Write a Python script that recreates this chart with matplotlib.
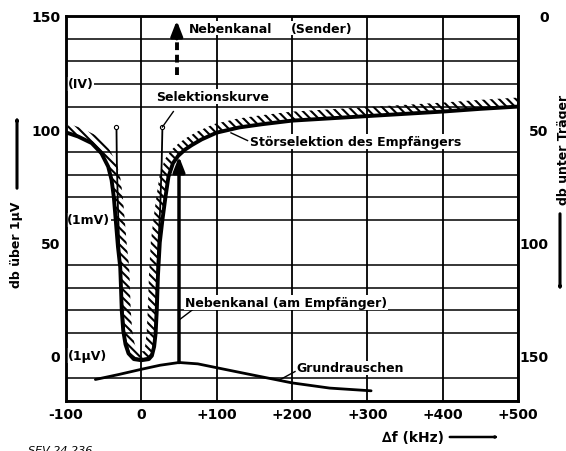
import numpy as np
import matplotlib
matplotlib.use("Agg")
import matplotlib.pyplot as plt
from matplotlib.patches import Polygon, FancyArrowPatch

# Störselektion des Empfängers (dick, schraffiert)
stoer_f = [-100, -84, -66, -53, -44, -39.5, -36.5, -34, -31, -28, -27, -26, -24, -21, -17, -10, 0,
           10, 14, 17, 19, 20.5, 22, 24.5, 28, 32, 36, 42, 49, 58, 67, 80, 100, 130, 160, 200, 250,
           300, 350, 400, 450, 500]
stoer_db = [98.6, 96.8, 93.9, 89.4, 83.5, 77.6, 70, 60, 48, 39, 30, 20, 11, 5, 1, -1.5, -2,
            -1.5, 0, 4, 10, 20, 35, 50, 60, 70, 79, 85, 88.3, 91, 93, 95.5, 98.5, 100.8, 102.2, 103.8, 104.8,
            105.8, 106.8, 107.8, 109, 110]

# Selektionskurve (dünn)
sel_f = [-33, -32.5, -31, -29, -26, -22, -16, -8, 0, 8, 14, 18, 20, 22, 25, 27, 28]
sel_db = [101, 85, 65, 45, 25, 8, 1, -1, -1.5, -1, 1, 8, 25, 45, 65, 85, 101]

# Grundrauschen
rausch_f = [-61, -30, 0, 25, 50, 75, 100, 140, 200, 250, 305]
rausch_db = [-10.5, -8.3, -6, -4.2, -3, -3.6, -5.3, -8, -12, -14.3, -15.5]

# Nebenkanal-Pfeile
nk_empf_f, nk_empf_db = 50, (-3, 88)
nk_send_f, nk_send_db = 47, (124, 141, 148)

x_ticks = [-100, 0, 100, 200, 300, 400, 500]
x_labels = ['-100', '0', '+100', '+200', '+300', '+400', '+500']
y_ticks = [0, 50, 100, 150]
y2_ticks = [0, 50, 100, 150]

plt.rcParams['font.family'] = 'DejaVu Sans'
plt.rcParams['hatch.linewidth'] = 1.5

fig = plt.figure(figsize=(5.66, 4.52), dpi=100)
ax = fig.add_axes([66/566, 1-402/452, (518-66)/566, (402-17)/452])
ax.set_xlim(-100, 500)
ax.set_ylim(-20, 150)

ax.set_xticks(x_ticks)
ax.set_xticklabels(x_labels, fontsize=10, fontweight='bold')
ax.set_yticks(y_ticks)
ax.set_yticklabels([str(v) for v in y_ticks], fontsize=10, fontweight='bold')
ax.set_yticks(np.arange(-20, 151, 10), minor=True)
ax.tick_params(axis='both', which='both', length=0, pad=4)
ax.grid(True, which='major', axis='x', color='black', lw=1.3)
ax.grid(True, which='minor', axis='y', color='black', lw=1.1)
for s in ax.spines.values():
    s.set_linewidth(1.8)

ax2 = ax.twinx()
ax2.set_ylim(170, 0)
ax2.set_yticks(y2_ticks)
ax2.set_yticklabels([str(v) for v in y2_ticks], fontsize=10, fontweight='bold', ha='right')
ax2.tick_params(axis='y', length=0, pad=22)
for s in ax2.spines.values():
    s.set_linewidth(1.8)

# Schraffur oberhalb der Störselektionskurve
pts = ax.transData.transform(np.column_stack([stoer_f, stoer_db]))
seg = np.diff(pts, axis=0)
seg /= np.linalg.norm(seg, axis=1)[:, None]
tang = np.zeros_like(pts)
tang[0], tang[-1] = seg[0], seg[-1]
tang[1:-1] = seg[:-1] + seg[1:]
tang /= np.linalg.norm(tang, axis=1)[:, None]
norm = np.column_stack([-tang[:, 1], tang[:, 0]])
off = ax.transData.inverted().transform(pts + norm * 9)
band = np.vstack([np.column_stack([stoer_f, stoer_db]), off[::-1]])
ax.add_patch(Polygon(band, closed=True, fill=False, edgecolor='black', lw=0,
                     hatch='\\\\\\\\', zorder=3))

ax.plot(stoer_f, stoer_db, color='black', lw=2.8, solid_capstyle='round', solid_joinstyle='round', zorder=4)
ax.plot(sel_f, sel_db, color='black', lw=1.3, zorder=4)
ax.plot([sel_f[0], sel_f[-1]], [sel_db[0], sel_db[-1]], 'o', ms=3, mfc='white', mec='black', mew=0.8, zorder=5)
ax.plot(rausch_f, rausch_db, color='black', lw=2, solid_capstyle='round', zorder=4)

# Nebenkanal am Empfänger
ax.annotate('', xy=(nk_empf_f, nk_empf_db[1]), xytext=(nk_empf_f, nk_empf_db[0]),
            arrowprops=dict(arrowstyle='-|>,head_length=0.9,head_width=0.35', lw=2.5, color='black',
                            shrinkA=0, shrinkB=0), zorder=5)
# Nebenkanal (Sender)
ax.plot([nk_send_f, nk_send_f], [nk_send_db[0], nk_send_db[1]], color='black', lw=2.8,
        dashes=(2, 1.2), zorder=5)
ax.annotate('', xy=(nk_send_f, nk_send_db[2]), xytext=(nk_send_f, nk_send_db[1] - 1),
            arrowprops=dict(arrowstyle='-|>,head_length=0.9,head_width=0.35', lw=2.5, color='black',
                            shrinkA=0, shrinkB=0), zorder=5)

tkw = dict(fontsize=9, fontweight='bold', va='center', zorder=6)
wb = dict(facecolor='white', edgecolor='none', pad=0.5)
ax.text(62.5, 144.7, 'Nebenkanal', ha='left', bbox=wb, **tkw)
ax.text(199, 144.7, '(Sender)', ha='left', bbox=wb, **tkw)
ax.text(20, 114.4, 'Selektionskurve', ha='left', bbox=wb, **tkw)
ax.text(144, 94.6, 'Störselektion des Empfängers', ha='left', bbox=wb, **tkw)
ax.text(58, 23.5, 'Nebenkanal (am Empfänger)', ha='left', bbox=wb, **tkw)
ax.text(206, -5.4, 'Grundrauschen', ha='left', bbox=wb, **tkw)
ax.text(-81, 120, '(IV)', ha='center', bbox=wb, **tkw)
ax.text(-70, 60, '(1mV)', ha='center', bbox=wb, **tkw)
ax.text(-71, 0, '(1µV)', ha='center', bbox=wb, **tkw)

# Hinweislinien
lkw = dict(color='black', lw=1, zorder=5)
ax.plot([28, 42.5], [101, 107.8], **lkw)
ax.plot([119, 141], [98.4, 95], **lkw)
ax.plot([51, 70], [16, 20.8], **lkw)
ax.plot([184, 204], [-10.6, -7], **lkw)

# Achsenbeschriftungen
akw = dict(transform=fig.transFigure, color='black')
fig.text(17/566, 1-245/452, 'db über 1µV', rotation=90, ha='center', va='center',
         fontsize=9, fontweight='bold')
fig.add_artist(FancyArrowPatch((17/566, 1-192/452), (17/566, 1-114/452),
                               arrowstyle='-|>,head_length=0.9,head_width=0.35', lw=2.2, **akw))
fig.text(563/566, 1-150/452, 'db unter Träger', rotation=90, ha='center', va='center',
         fontsize=9, fontweight='bold')
fig.add_artist(FancyArrowPatch((560/566, 1-212/452), (560/566, 1-295/452),
                               arrowstyle='-|>,head_length=0.9,head_width=0.35', lw=2.2, **akw))
fig.text(413/566, 1-438/452, '∆f (kHz)', ha='center', va='center', fontsize=10, fontweight='bold')
fig.add_artist(FancyArrowPatch((447/566, 1-438/452), (502/566, 1-438/452),
                               arrowstyle='-|>,head_length=0.9,head_width=0.35', lw=1.8, **akw))
fig.text(28/566, 1-451/452, 'SEV 24 236', ha='left', va='center', fontsize=8, style='italic')

fig.savefig('out.png', dpi=100)
